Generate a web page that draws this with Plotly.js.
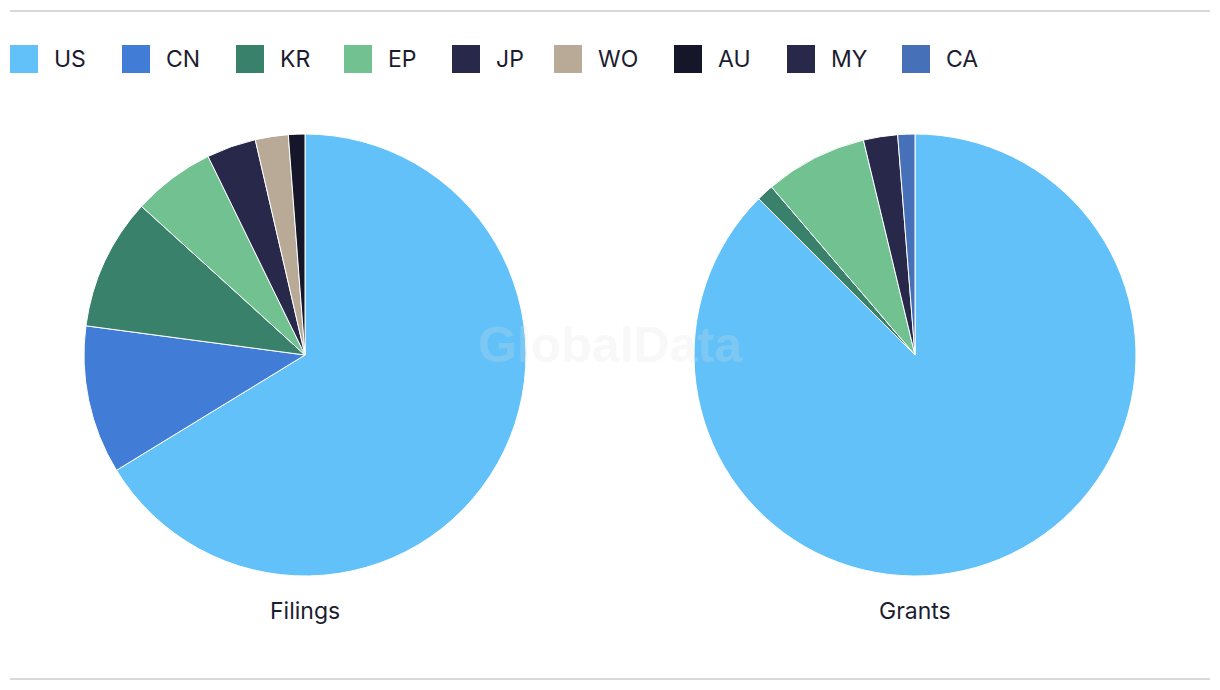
<!DOCTYPE html>
<html>
<head>
<meta charset="utf-8">
<script src="https://cdn.plot.ly/plotly-3.0.1.min.js"></script>
<style>html,body{margin:0;padding:0;background:#fff;}#chart{width:1220px;height:690px;}</style>
</head>
<body>
<div id="chart"></div>
<script>
// Data
const legendLabels = ["US", "CN", "KR", "EP", "JP", "WO", "AU", "MY", "CA"];
const legendColors = ["#62c1f9", "#417dd6", "#3a816b", "#72c291", "#28284a", "#b8aa96", "#16162a", "#28284b", "#4671b8"];

const filingsLabels = ["US", "CN", "KR", "EP", "JP", "WO", "AU"];
const filingsValues = [55, 9, 8, 5, 3, 2, 1];

const grantsLabels = ["US", "KR", "EP", "MY", "CA"];
const grantsValues = [70, 1, 6, 2, 1];

const pieTitles = ["Filings", "Grants"];

// Styling
const W = 1220, H = 690;
const colorOf = l => legendColors[legendLabels.indexOf(l)];
const px = x => x / W;
const py = y => 1 - y / H;
const textColor = "#1c1c30";
const fontFam = "Inter, Roboto, 'Noto Sans', sans-serif";

const pieY = [py(576), py(134)];
const pieDomains = [
  {x: [px(84), px(526)], y: pieY},
  {x: [px(694), px(1136)], y: pieY}
];

function pieTrace(labels, values, dom, name) {
  return {
    type: "pie",
    labels: labels,
    values: values,
    name: name,
    sort: false,
    direction: "clockwise",
    rotation: 0,
    textinfo: "none",
    hoverinfo: "label+value+percent",
    showlegend: false,
    domain: dom,
    marker: {colors: labels.map(colorOf), line: {color: "#ffffff", width: 1}}
  };
}

const data = [
  pieTrace(filingsLabels, filingsValues, pieDomains[0], pieTitles[0]),
  pieTrace(grantsLabels, grantsValues, pieDomains[1], pieTitles[1])
];

// Custom legend (large square swatches)
const legendX = [10, 122, 236, 344, 452, 554, 674, 787, 902];
const swatch = 28, legendCY = 59;
const shapes = [
  {type: "line", xref: "paper", yref: "paper", x0: px(10), x1: px(1210), y0: py(11), y1: py(11), line: {color: "#d9d9d9", width: 2}},
  {type: "line", xref: "paper", yref: "paper", x0: px(10), x1: px(1210), y0: py(679), y1: py(679), line: {color: "#d9d9d9", width: 2}}
];
const annotations = [];
legendLabels.forEach((l, i) => {
  shapes.push({
    type: "rect", xref: "paper", yref: "paper",
    x0: px(legendX[i]), x1: px(legendX[i] + swatch),
    y0: py(legendCY + swatch / 2), y1: py(legendCY - swatch / 2),
    fillcolor: legendColors[i], line: {width: 0}
  });
  annotations.push({
    xref: "paper", yref: "paper", x: px(legendX[i] + 42), y: py(legendCY),
    xanchor: "left", yanchor: "middle", showarrow: false, text: l,
    font: {family: fontFam, size: 23, color: textColor}
  });
});
pieTitles.forEach((t, i) => {
  annotations.push({
    xref: "paper", yref: "paper",
    x: (pieDomains[i].x[0] + pieDomains[i].x[1]) / 2, y: py(611),
    xanchor: "center", yanchor: "middle", showarrow: false, text: t,
    font: {family: fontFam, size: 23, color: textColor}
  });
});
// Watermark
annotations.push({
  xref: "paper", yref: "paper", x: 0.5, y: py(345), xanchor: "center", yanchor: "middle",
  showarrow: false, text: "<b>GlobalData</b>",
  font: {family: "'Liberation Sans', Arial, sans-serif", size: 50, color: "rgba(225,225,225,0.22)"}
});

const layout = {
  width: W, height: H,
  margin: {l: 0, r: 0, t: 0, b: 0},
  paper_bgcolor: "#ffffff",
  plot_bgcolor: "#ffffff",
  showlegend: false,
  shapes: shapes,
  annotations: annotations,
  font: {family: fontFam, color: textColor}
};

Plotly.newPlot("chart", data, layout, {displayModeBar: false, responsive: false});
</script>
</body>
</html>
